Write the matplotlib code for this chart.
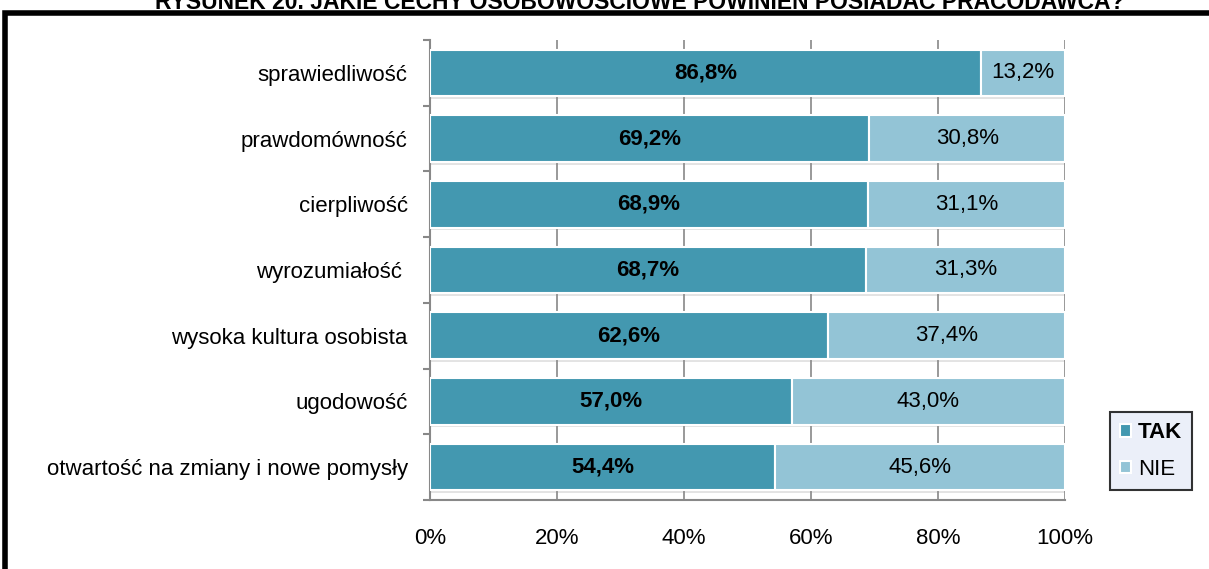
import matplotlib.pyplot as plt
from matplotlib.patches import Rectangle

plt.rcParams['font.family'] = ['Liberation Sans', 'DejaVu Sans']

cechy = ['sprawiedliwość', 'prawdomówność', 'cierpliwość', 'wyrozumiałość ',
         'wysoka kultura osobista', 'ugodowość', 'otwartość na zmiany i nowe pomysły']
tak = [86.8, 69.2, 68.9, 68.7, 62.6, 57.0, 54.4]
nie = [13.2, 30.8, 31.1, 31.3, 37.4, 43.0, 45.6]
ticks = [0, 20, 40, 60, 80, 100]

c_tak = '#4398b0'
c_nie = '#93c4d6'
fs = 16

fig = plt.figure(figsize=(12.09, 5.69), dpi=100)
ax = fig.add_axes([430 / 1209, 1 - 500 / 569, 635 / 1209, 460 / 569])

y = list(range(len(cechy)))[::-1]
h = 0.71

# shadow under bars
for yi in y:
    ax.barh(yi - 0.04, 100, height=h, left=0, color='#b0b0b0', alpha=0.35, zorder=1)

ax.barh(y, tak, height=h, color=c_tak, edgecolor='white', linewidth=1.5, zorder=3, label='TAK')
ax.barh(y, nie, left=tak, height=h, color=c_nie, edgecolor='white', linewidth=1.5, zorder=3, label='NIE')

for yi, t, n in zip(y, tak, nie):
    ax.text(t / 2, yi, f'{t:.1f}%'.replace('.', ','), ha='center', va='center',
            fontsize=fs, fontweight='bold', color='black', zorder=4)
    ax.text(t + n / 2, yi, f'{n:.1f}%'.replace('.', ','), ha='center', va='center',
            fontsize=fs, color='black', zorder=4)

ax.set_xlim(0, 100)
ax.set_ylim(-0.5, len(cechy) - 0.5)
ax.set_xticks(ticks)
ax.set_xticklabels([f'{t}%' for t in ticks], fontsize=fs)
ax.tick_params(axis='x', length=0, pad=20)
ax.set_yticks(y)
ax.set_yticklabels(cechy, fontsize=fs)
ax.tick_params(axis='y', length=0, pad=16)
ax.set_yticks([i - 0.5 for i in range(len(cechy) + 1)], minor=True)
ax.tick_params(axis='y', which='minor', length=5, color='#888888', width=1.5)
ax.set_xticks(ticks, minor=True)
ax.tick_params(axis='x', which='minor', length=5, color='#888888', width=1.5, direction='out')

ax.grid(axis='x', color='#888888', linewidth=1.2, zorder=0)
for s in ['top', 'right']:
    ax.spines[s].set_visible(False)
for s in ['left', 'bottom']:
    ax.spines[s].set_color('#888888')
    ax.spines[s].set_linewidth(1.5)

leg = ax.legend(loc='lower left', bbox_to_anchor=((1110 - 430) / 635, 10 / 460),
                borderaxespad=0, fontsize=fs, frameon=True, fancybox=False,
                edgecolor='black', facecolor='#e6ecf8', handlelength=0.5,
                handleheight=0.5, handletextpad=0.3, borderpad=0.45,
                labelspacing=0.7)
leg.get_frame().set_linewidth(1.5)
leg.get_texts()[0].set_fontweight('bold')

# frame and cut title
fig.patches.append(Rectangle((5 / 1209, -0.1), 1.2, 1 - 13 / 569 + 0.1,
                             transform=fig.transFigure, fill=False,
                             edgecolor='black', linewidth=4))
fig.text(640 / 1209, 1 - 9 / 569, 'RYSUNEK 20. JAKIE CECHY OSOBOWOŚCIOWE POWINIEN POSIADAĆ PRACODAWCA?',
         ha='center', va='baseline', fontsize=16.5, fontweight='bold')

fig.savefig('out.png', dpi=100)
